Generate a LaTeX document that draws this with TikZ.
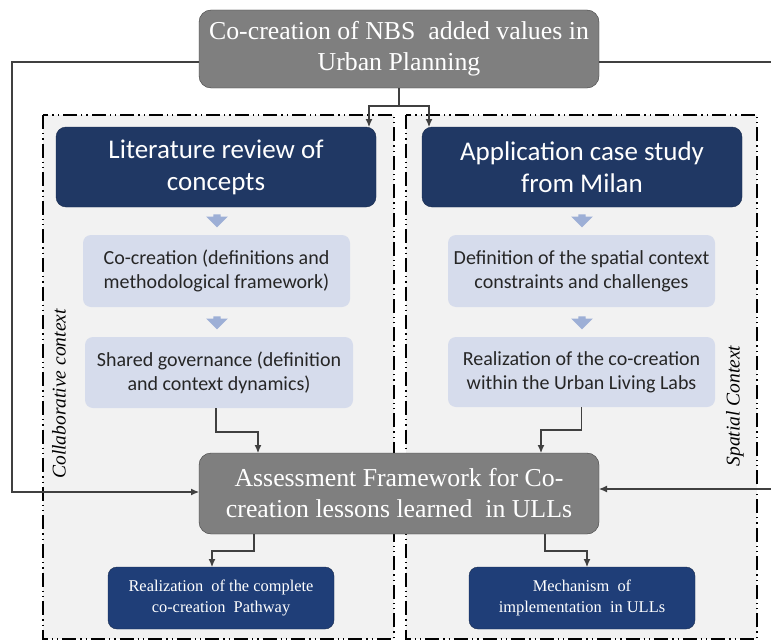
\documentclass[tikz,border=0pt]{standalone}
\usepackage{fontspec}
\setmainfont{Liberation Serif}
\newfontfamily\calibri{Carlito}
\usetikzlibrary{arrows.meta,shapes.arrows}
\definecolor{boxgray}{HTML}{7F7F7F}
\definecolor{boxedge}{HTML}{3F3F3F}
\definecolor{navy}{HTML}{203864}
\definecolor{navyedge}{HTML}{172A4D}
\definecolor{navylow}{HTML}{1F3E78}
\definecolor{lavender}{HTML}{D6DCEC}
\definecolor{arrowblue}{HTML}{9DAFD6}
\definecolor{framebg}{HTML}{F2F2F2}
\definecolor{linecol}{HTML}{404040}
\definecolor{textdark}{HTML}{262626}
\begin{document}
\begin{tikzpicture}[
    x=1pt, y=-1pt,
    frame/.style={draw=black, fill=framebg, line width=1.3pt,
                  dash pattern=on 14pt off 4pt on 1.3pt off 4pt on 1.3pt off 4pt},
    graybox/.style={rectangle, draw=boxedge, fill=boxgray, rounded corners=12pt,
                    text=white, align=center, inner sep=0pt, outer sep=0pt,
                    minimum width=400pt, font=\fontsize{25.8}{31}\selectfont},
    headbox/.style={rectangle, draw=navyedge, fill=navy, rounded corners=10pt,
                    text=white, align=center, inner sep=0pt, outer sep=0pt,
                    minimum width=320pt, minimum height=80pt,
                    font=\calibri\fontsize{27}{32}\selectfont},
    lightbox/.style={rectangle, fill=lavender, rounded corners=8pt, text=textdark,
                     align=center, inner sep=0pt, outer sep=0pt,
                     minimum width=267pt, minimum height=71pt,
                     font=\calibri\fontsize{20}{24}\selectfont},
    resultbox/.style={rectangle, draw=navyedge, fill=navylow, rounded corners=9pt,
                      text=white, align=center, inner sep=0pt, outer sep=0pt,
                      minimum width=226pt, minimum height=62pt,
                      font=\fontsize{16.4}{21}\selectfont},
    stepdown/.style={single arrow, fill=arrowblue, rotate=-90, inner sep=3.5pt,
                     minimum width=11pt, minimum height=13pt,
                     single arrow head indent=0pt},
    sidelabel/.style={rotate=90, inner sep=0pt, font=\itshape\fontsize{19.5}{22}\selectfont},
    line/.style={draw=linecol, line width=1.1pt},
    link/.style={line, -{Latex[length=8pt,width=7pt]}}
]
    \clip (0,0) rectangle (771,642);
    \fill[white] (0,0) rectangle (771,642);

    \draw[frame] (43,115) rectangle (394,639);
    \draw[frame] (406,115) rectangle (757,639);

    \node[graybox, minimum height=78pt] (top) at (399,49)
        {Co-creation of NBS\ \ added values in\\Urban Planning};

    \node[headbox] (lit) at (216,167) {Literature review of\\concepts};
    \node[headbox] (app) at (582,167) {Application case study\\from Milan};

    \node[lightbox, minimum height=72pt] (lit2) at (216.5,271)
        {Co-creation (definitions and\\methodological framework)};
    \node[lightbox, minimum width=268pt] (lit3) at (219,372.5)
        {Shared governance (definition\\and context dynamics)};
    \node[lightbox, minimum height=72pt] (app2) at (581.5,271)
        {Definition of the spatial context\\constraints and challenges};
    \node[lightbox, minimum height=70pt] (app3) at (581.5,372)
        {Realization of the co-creation\\within the Urban Living Labs};

    \node[stepdown] (s1) at (217,219) {};
    \node[stepdown] (s2) at (217,321) {};
    \node[stepdown] (s3) at (582,219) {};
    \node[stepdown] (s4) at (582,321) {};

    \node[graybox, minimum height=81pt] (assess) at (399,493.5)
        {Assessment Framework for Co-\\creation lessons learned\ \ in ULLs};

    \node[resultbox] (res1) at (221,598)
        {Realization\ \ of the complete\\co-creation\ \ Pathway};
    \node[resultbox] (res2) at (582,598)
        {Mechanism\ \ of\\implementation\ \ in ULLs};

    \node[sidelabel] (collab) at (59,394) {Collaborative context};
    \node[sidelabel] (spatial) at (735,406) {Spatial Context};

    \coordinate (split) at (399,106);
    \coordinate (lbend) at (12,62);
    \coordinate (rbend) at (780,62);

    \draw[line] (top.south) -- (split);
    \draw[link] (split) -| ([xshift=-7pt]lit.north east);
    \draw[link] (split) -| ([xshift=7pt]app.north west);

    \draw[link] ([yshift=-13pt]top.west) -| (lbend) |- ([yshift=1.5pt]assess.west);
    \draw[link] ([yshift=-13pt]top.east) -- (rbend) |- ([yshift=4.5pt]assess.east);

    \draw[link] ([xshift=-3pt]lit3.south) -- ++(0,24) -| ([xshift=-141pt]assess.north);
    \draw[link] (app3.south) -- ++(0,23) -| ([xshift=142pt]assess.north);

    \draw[link] ([xshift=-145pt]assess.south) -- ++(0,17) -| ([xshift=-9pt]res1.north);
    \draw[link] ([xshift=146pt]assess.south) -- ++(0,17) -| ([xshift=5pt]res2.north);
\end{tikzpicture}
\end{document}
